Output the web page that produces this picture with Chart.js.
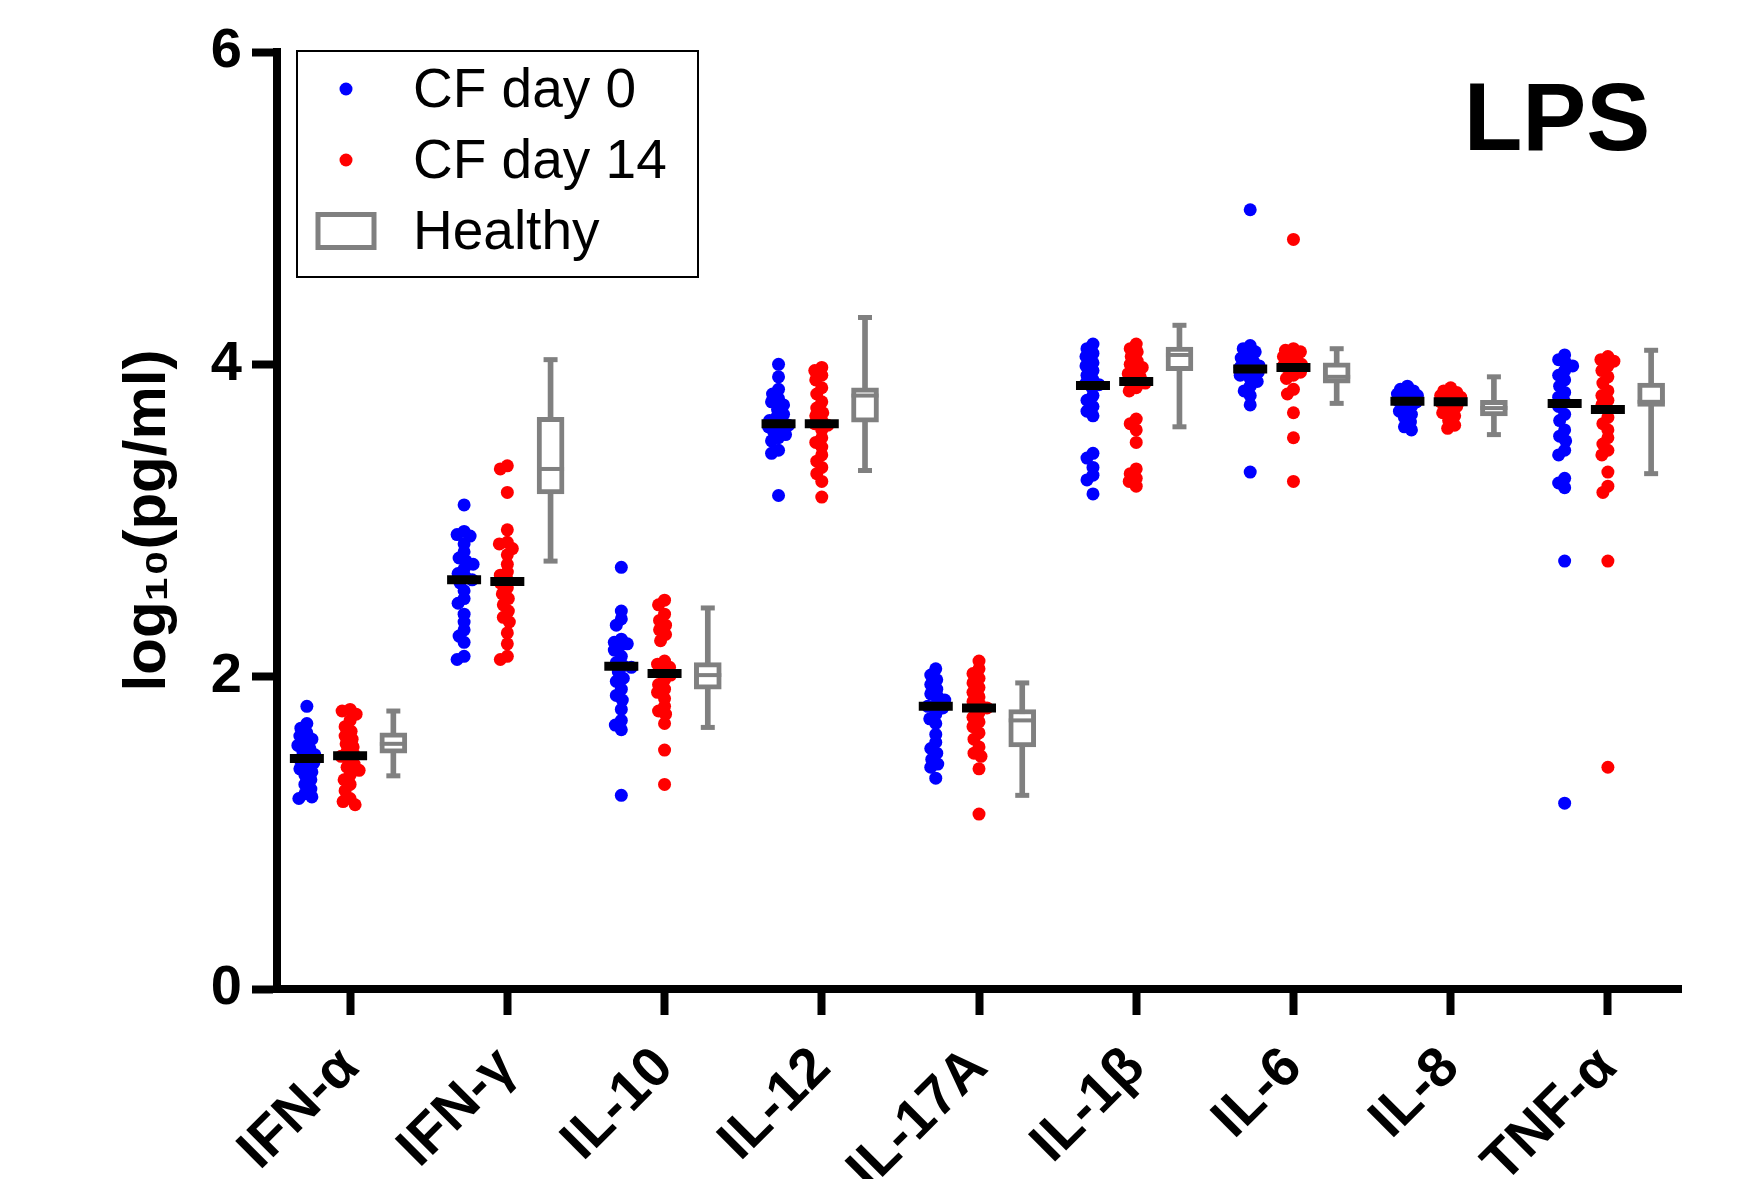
<!DOCTYPE html>
<html lang="en">
<head>
    <meta charset="UTF-8">
    <title>LPS cytokines</title>
    <script src="https://cdn.jsdelivr.net/npm/chart.js"></script>
    <style>
        html, body { margin: 0; padding: 0; background: #fff; }
        #wrap { width: 1748px; height: 1179px; }
    </style>
</head>
<body>
    <div id="wrap"><canvas id="chart" width="1748" height="1179"></canvas></div>

    <script>
        const panelTitle = 'LPS';
        const cytokines = ['IFN-α', 'IFN-γ', 'IL-10', 'IL-12', 'IL-17A', 'IL-1β', 'IL-6', 'IL-8', 'TNF-α'];
        const seriesNames = ['CF day 0', 'CF day 14', 'Healthy'];
        const yTicks = [0, 2, 4, 6];

        // log10(pg/ml), one array per cytokine
        const day0Values = [
            [1.81, 1.70, 1.67, 1.64, 1.62, 1.60, 1.58, 1.56, 1.54, 1.52, 1.50, 1.48, 1.47, 1.45, 1.43, 1.41, 1.39, 1.37, 1.34, 1.31, 1.28, 1.25, 1.23, 1.22],
            [3.10, 2.93, 2.91, 2.90, 2.85, 2.80, 2.76, 2.74, 2.72, 2.69, 2.66, 2.64, 2.62, 2.60, 2.55, 2.50, 2.47, 2.40, 2.35, 2.30, 2.26, 2.22, 2.13, 2.11],
            [2.70, 2.42, 2.37, 2.33, 2.24, 2.22, 2.21, 2.20, 2.17, 2.13, 2.09, 2.07, 2.06, 2.03, 1.99, 1.97, 1.92, 1.88, 1.85, 1.79, 1.72, 1.69, 1.66, 1.24],
            [4.00, 3.92, 3.84, 3.81, 3.78, 3.76, 3.74, 3.71, 3.68, 3.66, 3.64, 3.63, 3.62, 3.61, 3.60, 3.59, 3.57, 3.55, 3.53, 3.51, 3.45, 3.43, 3.16],
            [2.05, 2.01, 1.98, 1.95, 1.92, 1.89, 1.87, 1.85, 1.82, 1.81, 1.80, 1.76, 1.73, 1.70, 1.63, 1.58, 1.54, 1.51, 1.47, 1.44, 1.42, 1.35],
            [4.13, 4.10, 4.07, 4.05, 4.01, 3.99, 3.96, 3.93, 3.90, 3.88, 3.87, 3.85, 3.80, 3.77, 3.73, 3.70, 3.67, 3.43, 3.40, 3.34, 3.29, 3.26, 3.17],
            [4.99, 4.12, 4.10, 4.08, 4.06, 4.04, 4.02, 4.00, 3.99, 3.98, 3.97, 3.96, 3.95, 3.93, 3.91, 3.89, 3.86, 3.83, 3.80, 3.74, 3.31],
            [3.86, 3.84, 3.83, 3.82, 3.81, 3.80, 3.79, 3.78, 3.77, 3.76, 3.76, 3.75, 3.74, 3.72, 3.70, 3.68, 3.66, 3.63, 3.60, 3.58],
            [4.06, 4.03, 4.01, 3.99, 3.96, 3.93, 3.90, 3.86, 3.82, 3.79, 3.76, 3.73, 3.68, 3.64, 3.58, 3.54, 3.51, 3.45, 3.42, 3.27, 3.24, 3.21, 2.74, 1.19]
        ];
        const day14Values = [
            [1.79, 1.78, 1.76, 1.72, 1.68, 1.65, 1.62, 1.60, 1.57, 1.55, 1.52, 1.50, 1.49, 1.47, 1.44, 1.42, 1.40, 1.37, 1.34, 1.31, 1.27, 1.22, 1.20, 1.18],
            [3.35, 3.33, 3.18, 2.94, 2.86, 2.85, 2.82, 2.78, 2.72, 2.67, 2.65, 2.62, 2.60, 2.57, 2.53, 2.50, 2.46, 2.42, 2.38, 2.35, 2.28, 2.21, 2.13, 2.11],
            [2.49, 2.46, 2.40, 2.36, 2.33, 2.30, 2.27, 2.23, 2.10, 2.08, 2.06, 2.03, 2.01, 1.98, 1.95, 1.92, 1.90, 1.86, 1.81, 1.78, 1.76, 1.70, 1.53, 1.31],
            [3.98, 3.96, 3.93, 3.90, 3.85, 3.81, 3.76, 3.72, 3.69, 3.67, 3.64, 3.62, 3.61, 3.58, 3.53, 3.50, 3.47, 3.42, 3.38, 3.34, 3.30, 3.25, 3.15],
            [2.10, 2.05, 2.02, 1.99, 1.96, 1.93, 1.90, 1.87, 1.84, 1.82, 1.80, 1.77, 1.74, 1.71, 1.68, 1.64, 1.60, 1.55, 1.51, 1.49, 1.41, 1.12],
            [4.13, 4.10, 4.08, 4.05, 4.02, 4.00, 3.98, 3.96, 3.94, 3.92, 3.90, 3.88, 3.85, 3.83, 3.65, 3.62, 3.58, 3.50, 3.33, 3.30, 3.27, 3.25, 3.22],
            [4.80, 4.10, 4.09, 4.08, 4.07, 4.05, 4.04, 4.02, 4.00, 3.99, 3.98, 3.97, 3.95, 3.93, 3.91, 3.84, 3.81, 3.69, 3.53, 3.25],
            [3.85, 3.83, 3.82, 3.81, 3.80, 3.79, 3.78, 3.77, 3.76, 3.76, 3.75, 3.74, 3.73, 3.71, 3.69, 3.67, 3.64, 3.61, 3.59],
            [4.05, 4.03, 4.02, 3.99, 3.96, 3.92, 3.88, 3.83, 3.80, 3.77, 3.74, 3.71, 3.66, 3.62, 3.58, 3.53, 3.49, 3.45, 3.42, 3.31, 3.22, 3.18, 2.74, 1.42]
        ];
        const day0Median  = [1.476, 2.62, 2.066, 3.62, 1.81, 3.865, 3.97, 3.763, 3.75];
        const day14Median = [1.494, 2.61, 2.02, 3.62, 1.80, 3.89, 3.98, 3.76, 3.71];

        // healthy controls: box and whiskers
        const healthyMin    = [1.365, 2.74, 1.675, 3.32, 1.24, 3.60, 3.75, 3.55, 3.30];
        const healthyQ1     = [1.51, 3.17, 1.92, 3.63, 1.55, 3.96, 3.88, 3.67, 3.73];
        const healthyMedian = [1.57, 3.33, 2.01, 3.80, 1.72, 4.06, 3.92, 3.72, 3.76];
        const healthyQ3     = [1.64, 3.66, 2.09, 3.85, 1.79, 4.11, 4.01, 3.77, 3.88];
        const healthyMax    = [1.78, 4.03, 2.44, 4.30, 1.96, 4.25, 4.10, 3.92, 4.09];

        const BLUE = '#0000ff', RED = '#ff0000', GREY = '#808080';
        const FONT = '"Liberation Sans", Arial, Helvetica, sans-serif';
        const groupShift = [-0.275, 0, 0.275];
        const DOT_R = 6.5;
        const PX_X = 157, PX_Y = 156;   // rough pixels per unit, only used to spread the dots

        // small beeswarm: dots overlap a fair bit and stay inside a narrow column
        function swarm(values, centre) {
            const minDist = 7.5, maxShift = 10;
            const placed = [];
            return values.map(v => {
                const py = v * PX_Y;
                let best = 0, bestGap = -1;
                for (let step = 0; step <= maxShift * 2; step++) {
                    const cand = (step % 2 === 0 ? 1 : -1) * Math.ceil(step / 2);
                    const gap = placed.length ? Math.min(...placed.map(p => Math.hypot(p.x - cand, p.y - py))) : Infinity;
                    if (gap >= minDist) { best = cand; break; }
                    if (gap > bestGap) { bestGap = gap; best = cand; }
                }
                placed.push({x: best, y: py});
                return {x: centre + best / PX_X, y: v};
            });
        }

        const day0Points = day0Values.flatMap((vals, i) => swarm(vals, i + groupShift[0]));
        const day14Points = day14Values.flatMap((vals, i) => swarm(vals, i + groupShift[1]));
        const boxX = i => i + groupShift[2];

        const boxLegend = {
            id: 'boxLegend',
            afterDraw(chart) {
                const {ctx, chartArea} = chart;
                const x0 = chartArea.left + 20, y0 = chartArea.top - 1;
                ctx.save();
                ctx.lineWidth = 2;
                ctx.strokeStyle = '#000';
                ctx.strokeRect(x0, y0, 401, 226);
                ctx.font = '55px ' + FONT;
                ctx.textBaseline = 'middle';
                ctx.fillStyle = '#000';
                seriesNames.forEach((name, k) => {
                    const cy = y0 + 38 + k * 71;
                    const cx = x0 + 49;
                    if (k < 2) {
                        ctx.beginPath();
                        ctx.arc(cx, cy, DOT_R, 0, Math.PI * 2);
                        ctx.fillStyle = k === 0 ? BLUE : RED;
                        ctx.fill();
                    } else {
                        ctx.lineWidth = 5;
                        ctx.strokeStyle = GREY;
                        ctx.strokeRect(cx - 28, cy - 16.5, 56, 33);
                    }
                    ctx.fillStyle = '#000';
                    ctx.fillText(name, x0 + 116, cy + 3);
                });
                ctx.restore();
            }
        };

        const panelLabel = {
            id: 'panelLabel',
            afterDraw(chart) {
                const {ctx, chartArea} = chart;
                ctx.save();
                ctx.font = 'bold 96px ' + FONT;
                ctx.fillStyle = '#000';
                ctx.textAlign = 'center';
                ctx.textBaseline = 'middle';
                ctx.fillText(panelTitle, chartArea.right - 124, chartArea.top + 72);
                ctx.restore();
            }
        };

        Chart.defaults.font.family = FONT;
        Chart.defaults.color = '#000';

        new Chart(document.getElementById('chart'), {
            type: 'scatter',
            data: {
                datasets: [
                    {
                        label: 'day 0 median', order: 1,
                        data: day0Median.map((v, i) => ({x: i + groupShift[0], y: v})),
                        pointStyle: 'line', pointRadius: 17, borderWidth: 9, borderColor: '#000'
                    },
                    {
                        label: 'day 14 median', order: 1,
                        data: day14Median.map((v, i) => ({x: i + groupShift[1], y: v})),
                        pointStyle: 'line', pointRadius: 17, borderWidth: 9, borderColor: '#000'
                    },
                    {
                        label: seriesNames[0], order: 2, data: day0Points,
                        pointRadius: DOT_R, borderWidth: 0, backgroundColor: BLUE
                    },
                    {
                        label: seriesNames[1], order: 2, data: day14Points,
                        pointRadius: DOT_R, borderWidth: 0, backgroundColor: RED
                    },
                    {
                        label: 'healthy median', order: 3,
                        data: healthyMedian.map((v, i) => ({x: boxX(i), y: v})),
                        pointStyle: 'line', pointRadius: 13.5, borderWidth: 4, borderColor: GREY
                    },
                    {
                        label: 'healthy caps', order: 3,
                        data: healthyMin.map((v, i) => ({x: boxX(i), y: v}))
                            .concat(healthyMax.map((v, i) => ({x: boxX(i), y: v}))),
                        pointStyle: 'line', pointRadius: 7, borderWidth: 5, borderColor: GREY
                    },
                    {
                        type: 'bar', label: seriesNames[2], order: 4,
                        data: healthyQ1.map((q1, i) => ({x: boxX(i), y: [q1, healthyQ3[i]]})),
                        grouped: false, maxBarThickness: 27, barPercentage: 1, categoryPercentage: 1,
                        backgroundColor: '#fff', borderColor: GREY, borderWidth: 5, borderSkipped: false
                    },
                    {
                        type: 'bar', label: 'healthy range', order: 5,
                        data: healthyMin.map((lo, i) => ({x: boxX(i), y: [lo, healthyMax[i]]})),
                        grouped: false, maxBarThickness: 5, barPercentage: 1, categoryPercentage: 1,
                        backgroundColor: GREY, borderWidth: 0
                    }
                ]
            },
            options: {
                responsive: false,
                animation: false,
                devicePixelRatio: 1,
                layout: { padding: { left: 0, top: 52, right: 67, bottom: 0 } },
                plugins: {
                    legend: { display: false },
                    tooltip: { enabled: false }
                },
                scales: {
                    x: {
                        type: 'linear',
                        min: -0.465,
                        max: 8.465,
                        offset: false,
                        afterBuildTicks: scale => { scale.ticks = cytokines.map((c, i) => ({value: i})); },
                        afterFit: scale => { scale.height = 190; },
                        border: { display: true, width: 8, color: '#000' },
                        grid: { drawOnChartArea: false, drawTicks: true, tickLength: 26, tickWidth: 8, tickColor: '#000', offset: false },
                        ticks: {
                            autoSkip: false,
                            minRotation: 45,
                            maxRotation: 45,
                            padding: 20,
                            font: { size: 56, weight: 'bold' },
                            callback: value => cytokines[value]
                        }
                    },
                    y: {
                        min: 0,
                        max: 6,
                        afterBuildTicks: scale => { scale.ticks = yTicks.map(v => ({value: v})); },
                        afterFit: scale => { scale.width = 277; },
                        border: { display: true, width: 8, color: '#000' },
                        grid: { drawOnChartArea: false, drawTicks: true, tickLength: 25, tickWidth: 8, tickColor: '#000' },
                        ticks: { padding: 10, font: { size: 56, weight: 'bold' } },
                        title: {
                            display: true,
                            text: 'log₁₀(pg/ml)',
                            font: { size: 60, weight: 'bold' },
                            padding: { top: 112, bottom: 0 }
                        }
                    }
                }
            },
            plugins: [boxLegend, panelLabel]
        });
    </script>
</body>
</html>
